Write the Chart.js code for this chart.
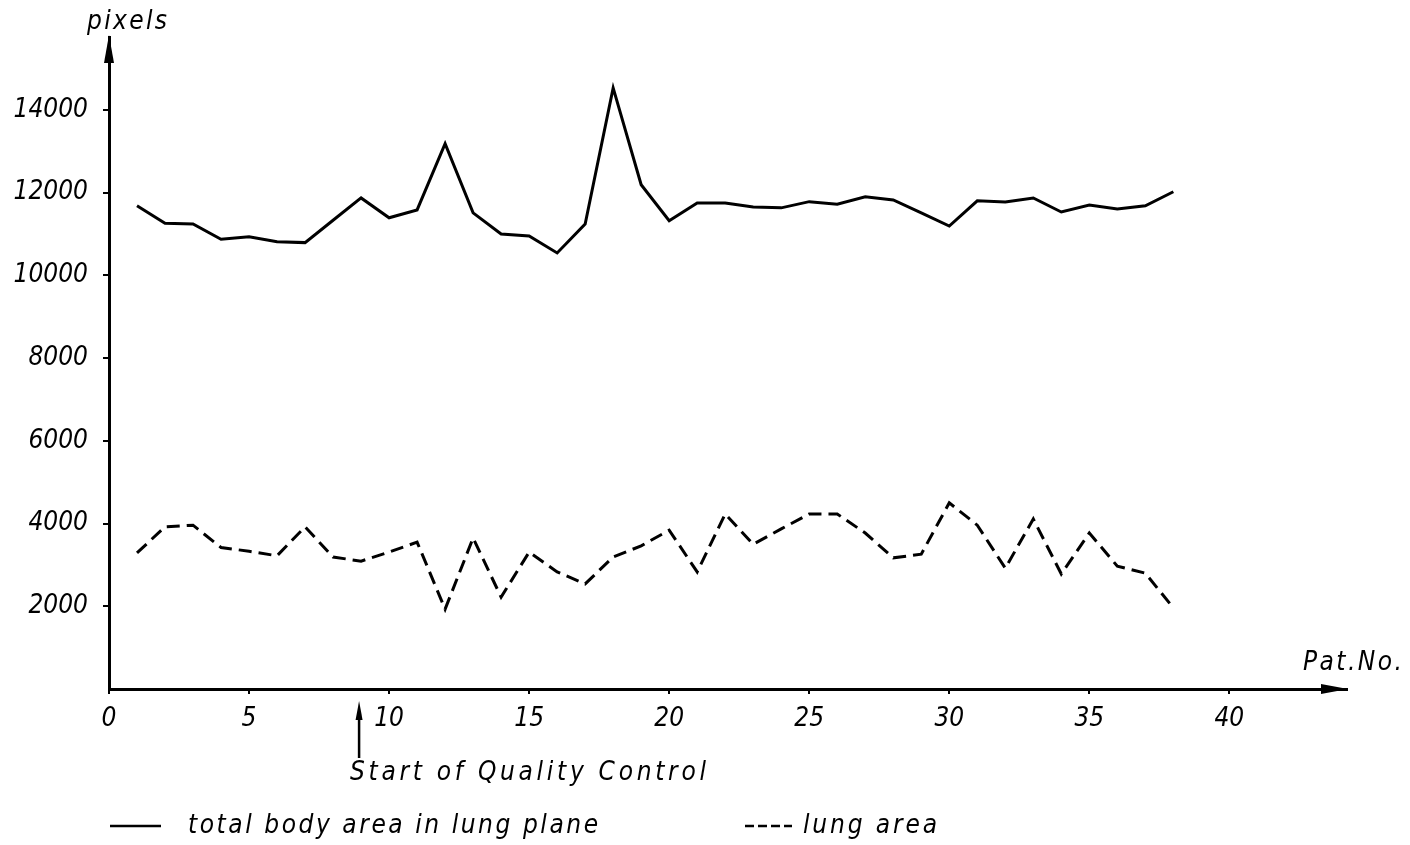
<!DOCTYPE html>
<html>
<head>
<meta charset="utf-8">
<script src="https://cdn.jsdelivr.net/npm/chart.js@4.4.1/dist/chart.umd.min.js"></script>
<style>
  html, body { margin: 0; padding: 0; background: #ffffff; }
  #wrap { width: 1410px; height: 845px; }
</style>
</head>
<body>
<div id="wrap"><canvas id="c" width="1410" height="845"></canvas></div>
<script>
// ---- data ----
const patNo = [1,2,3,4,5,6,7,8,9,10,11,12,13,14,15,16,17,18,19,20,21,22,23,24,25,26,27,28,29,30,31,32,33,34,35,36,37,38];
const totalBodyArea = [11680, 11260, 11240, 10870, 10930, 10810, 10790, 11330, 11870, 11390,
                       11580, 13180, 11510, 11000, 10950, 10540, 11240, 14530, 12190, 11320,
                       11750, 11750, 11650, 11630, 11780, 11720, 11900, 11820, 11510, 11190,
                       11800, 11770, 11870, 11530, 11700, 11600, 11680, 12020];
const lungArea = [3290, 3920, 3960, 3420, 3330, 3220, 3920, 3190, 3090, 3310,
                  3550, 1930, 3650, 2220, 3310, 2830, 2540, 3190, 3460, 3840,
                  2830, 4230, 3500, 3870, 4230, 4230, 3770, 3170, 3260, 4500,
                  3960, 2920, 4110, 2780, 3770, 2970, 2800, 1960];
const xTickValues = [0, 5, 10, 15, 20, 25, 30, 35, 40];
const yTickValues = [2000, 4000, 6000, 8000, 10000, 12000, 14000];
const qcStart = 9;
const seriesLabels = ['total body area in lung plane', 'lung area'];
const yTitle = 'pixels';
const xTitle = 'Pat.No.';
const qcLabel = 'Start of Quality Control';

const FONT = '"DejaVu Sans Condensed", "DejaVu Sans"';
const FONT_SIZE = 26;

function toPoints(xs, ys) { return xs.map((x, i) => ({ x: x, y: ys[i] })); }

function spacedText(ctx, text, x, y, targetWidth) {
  ctx.letterSpacing = '0px';
  const w = ctx.measureText(text).width;
  const n = text.length;
  const ls = n > 1 ? Math.max(0, (targetWidth - w) / (n - 1)) : 0;
  ctx.letterSpacing = ls.toFixed(2) + 'px';
  ctx.fillText(text, x, y);
  ctx.letterSpacing = '0px';
}

const decorations = {
  id: 'decorations',
  beforeDraw(chart) {
    const ctx = chart.ctx;
    ctx.save();
    ctx.fillStyle = '#ffffff';
    ctx.fillRect(0, 0, chart.width, chart.height);
    ctx.restore();
  },
  afterDraw(chart) {
    const ctx = chart.ctx;
    const xs = chart.scales.x;
    const ca = chart.chartArea;
    ctx.save();
    ctx.fillStyle = '#000';
    ctx.strokeStyle = '#000';
    // y axis arrow
    ctx.beginPath();
    ctx.moveTo(ca.left, ca.top - 2);
    ctx.lineTo(ca.left - 5, ca.top + 26);
    ctx.lineTo(ca.left + 5, ca.top + 26);
    ctx.closePath();
    ctx.fill();
    // x axis arrow
    ctx.beginPath();
    ctx.moveTo(ca.right + 1, ca.bottom);
    ctx.lineTo(ca.right - 26, ca.bottom - 5);
    ctx.lineTo(ca.right - 26, ca.bottom + 5);
    ctx.closePath();
    ctx.fill();

    ctx.font = 'italic ' + FONT_SIZE + 'px ' + FONT;
    ctx.textBaseline = 'middle';
    ctx.textAlign = 'left';
    // axis titles
    spacedText(ctx, yTitle, 87, 22, 80);
    spacedText(ctx, xTitle, 1303, 663, 99);

    // quality control marker
    const qx = xs.getPixelForValue(qcStart) - 2;
    ctx.lineWidth = 2.5;
    ctx.beginPath();
    ctx.moveTo(qx, 712);
    ctx.lineTo(qx, 758);
    ctx.stroke();
    ctx.beginPath();
    ctx.moveTo(qx, 701);
    ctx.lineTo(qx - 3.5, 720);
    ctx.lineTo(qx + 3.5, 720);
    ctx.closePath();
    ctx.fill();
    spacedText(ctx, qcLabel, 350, 773, 356);

    // legend
    const ly = 826;
    ctx.lineWidth = 2.5;
    ctx.setLineDash([]);
    ctx.beginPath();
    ctx.moveTo(110, ly);
    ctx.lineTo(161, ly);
    ctx.stroke();
    spacedText(ctx, seriesLabels[0], 188, ly, 410);
    ctx.setLineDash([9, 4]);
    ctx.beginPath();
    ctx.moveTo(745, ly);
    ctx.lineTo(792, ly);
    ctx.stroke();
    ctx.setLineDash([]);
    spacedText(ctx, seriesLabels[1], 803, ly, 134);
    ctx.restore();
  }
};

new Chart(document.getElementById('c'), {
  type: 'line',
  data: {
    datasets: [
      {
        label: seriesLabels[0],
        data: toPoints(patNo, totalBodyArea),
        borderColor: '#000',
        borderWidth: 3,
        pointRadius: 0,
        tension: 0,
        fill: false
      },
      {
        label: seriesLabels[1],
        data: toPoints(patNo, lungArea),
        borderColor: '#000',
        borderWidth: 3,
        borderDash: [13, 7],
        pointRadius: 0,
        tension: 0,
        fill: false
      }
    ]
  },
  options: {
    responsive: false,
    animation: false,
    events: [],
    layout: { padding: { left: 0, right: 63, top: 37, bottom: 0 } },
    plugins: { legend: { display: false }, tooltip: { enabled: false } },
    scales: {
      x: {
        type: 'linear',
        min: 0,
        max: 44.2,
        afterBuildTicks(scale) { scale.ticks = xTickValues.map(v => ({ value: v })); },
        afterFit(scale) { scale.height = 156; },
        border: { display: true, color: '#000', width: 3 },
        grid: { drawOnChartArea: false, drawTicks: true, tickLength: 5, color: '#000', lineWidth: 2 },
        ticks: {
          autoSkip: false,
          maxRotation: 0,
          padding: 10,
          color: '#000',
          font: { family: FONT, style: 'italic', size: FONT_SIZE },
          callback: (v) => String(v)
        }
      },
      y: {
        type: 'linear',
        min: 0,
        max: 15760,
        afterBuildTicks(scale) { scale.ticks = yTickValues.map(v => ({ value: v })); },
        afterFit(scale) { scale.width = 109; },
        border: { display: true, color: '#000', width: 3 },
        grid: { drawOnChartArea: false, drawTicks: true, tickLength: 6, color: '#000', lineWidth: 2 },
        ticks: {
          padding: 15,
          color: '#000',
          font: { family: FONT, style: 'italic', size: FONT_SIZE },
          callback: (v) => String(v)
        }
      }
    }
  },
  plugins: [decorations]
});
</script>
</body>
</html>
